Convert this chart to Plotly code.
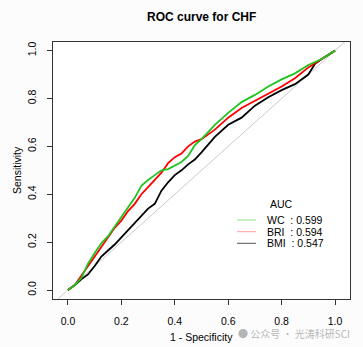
import plotly.graph_objects as go

# ROC coordinates: false positive rate (1 - specificity) and sensitivity
wc_fpr = [0, 0.025, 0.05, 0.075, 0.1, 0.125, 0.15, 0.175, 0.2, 0.225, 0.25, 0.275, 0.3,
          0.325, 0.35, 0.375, 0.4, 0.425, 0.45, 0.475, 0.5, 0.55, 0.6, 0.65, 0.7, 0.75,
          0.8, 0.85, 0.9, 0.95, 1.0]
wc_tpr = [0, 0.02, 0.05, 0.11, 0.155, 0.195, 0.225, 0.265, 0.30, 0.34, 0.385, 0.435, 0.46,
          0.48, 0.50, 0.505, 0.52, 0.535, 0.56, 0.605, 0.63, 0.69, 0.74, 0.785, 0.815, 0.85,
          0.88, 0.905, 0.94, 0.965, 1.0]

bri_fpr = [0, 0.025, 0.05, 0.075, 0.1, 0.125, 0.15, 0.175, 0.2, 0.225, 0.25, 0.275, 0.3,
           0.325, 0.35, 0.375, 0.4, 0.425, 0.45, 0.475, 0.5, 0.55, 0.6, 0.65, 0.7, 0.75,
           0.8, 0.85, 0.9, 0.95, 1.0]
bri_tpr = [0, 0.02, 0.06, 0.10, 0.14, 0.18, 0.22, 0.26, 0.29, 0.33, 0.36, 0.40, 0.43,
           0.46, 0.49, 0.53, 0.555, 0.57, 0.60, 0.62, 0.63, 0.67, 0.72, 0.76, 0.79, 0.82,
           0.85, 0.885, 0.93, 0.965, 1.0]

bmi_fpr = [0, 0.025, 0.05, 0.075, 0.1, 0.125, 0.15, 0.175, 0.2, 0.225, 0.25, 0.275, 0.3,
           0.325, 0.35, 0.375, 0.4, 0.425, 0.45, 0.475, 0.5, 0.55, 0.6, 0.65, 0.7, 0.75,
           0.8, 0.85, 0.9, 0.925, 0.95, 1.0]
bmi_tpr = [0, 0.02, 0.045, 0.065, 0.10, 0.14, 0.165, 0.19, 0.22, 0.25, 0.28, 0.31, 0.34,
           0.36, 0.415, 0.45, 0.48, 0.50, 0.525, 0.545, 0.575, 0.64, 0.69, 0.72, 0.77, 0.805,
           0.835, 0.86, 0.90, 0.945, 0.965, 1.0]

series_names = ["WC", "BRI", "BMI"]
auc_values = [0.599, 0.594, 0.547]
curve_colors = ["#1FC41F", "#FF0000", "#000000"]
legend_colors = ["#8FE08F", "#FF9A9A", "#555555"]

x_ticks = [0.0, 0.2, 0.4, 0.6, 0.8, 1.0]
y_ticks = [0.0, 0.2, 0.4, 0.6, 0.8, 1.0]

FONT = "Liberation Sans, Arial, Helvetica, sans-serif"

fig = go.Figure()

# chance diagonal, spanning the full plotting region
fig.add_trace(go.Scatter(x=[-0.2, 1.2], y=[-0.2, 1.2], mode="lines",
                         line=dict(color="#BDBDBD", width=0.8), hoverinfo="skip"))

# BMI drawn first, WC on top
for fpr, tpr, col in [(bmi_fpr, bmi_tpr, curve_colors[2]),
                      (bri_fpr, bri_tpr, curve_colors[1]),
                      (wc_fpr, wc_tpr, curve_colors[0])]:
    fig.add_trace(go.Scatter(x=fpr, y=tpr, mode="lines",
                             line=dict(color=col, width=1.8)))

axis_common = dict(
    showgrid=False, zeroline=False, showline=True, mirror=True,
    linecolor="#333333", linewidth=1, ticks="outside", ticklen=5,
    tickcolor="#333333", tickwidth=1,
    tickfont=dict(family=FONT, size=10.5, color="#000000"),
    ticklabelstandoff=7,
)

fig.update_xaxes(range=[-0.056, 1.056], tickvals=x_ticks,
                 ticktext=[f"{v:.1f}" for v in x_ticks], **axis_common)
fig.update_yaxes(range=[-0.0375, 1.036], tickvals=y_ticks,
                 ticktext=[f"{v:.1f}" for v in y_ticks], tickangle=-90, **axis_common)

W, H = 363, 347
L, R, T, B = 53, 13, 42, 48
pw, ph = W - L - R, H - T - B


def px_x(px):
    return (px - L) / pw


def px_y(py):
    return (H - B - py) / ph


annotations = [
    dict(text="<b>ROC curve for CHF</b>", x=px_x(201.5), y=px_y(17), xref="paper", yref="paper",
         showarrow=False, font=dict(family=FONT, size=12, color="#000000"),
         xanchor="center", yanchor="middle"),
    dict(text="1 - Specificity", x=px_x(201.5), y=px_y(337), xref="paper", yref="paper",
         showarrow=False, font=dict(family=FONT, size=10.5, color="#000000"),
         xanchor="center", yanchor="middle"),
    dict(text="Sensitivity", x=px_x(17), y=px_y(170), xref="paper", yref="paper",
         showarrow=False, textangle=-90, font=dict(family=FONT, size=10.5, color="#000000"),
         xanchor="center", yanchor="middle"),
    dict(text="AUC", x=px_x(281), y=px_y(204), xref="paper", yref="paper",
         showarrow=False, font=dict(family=FONT, size=10.5, color="#000000"),
         xanchor="center", yanchor="middle"),
]

shapes = []
legend_rows = [220, 231.7, 243.3]
for name, auc, col, ry in zip(series_names, auc_values, legend_colors, legend_rows):
    shapes.append(dict(type="line", xref="paper", yref="paper",
                       x0=px_x(237), x1=px_x(256), y0=px_y(ry), y1=px_y(ry),
                       line=dict(color=col, width=1)))
    annotations.append(dict(text=f"{name}\u00a0\u00a0: {auc:.3f}", x=px_x(265), y=px_y(ry),
                            xref="paper", yref="paper", showarrow=False,
                            xanchor="left", yanchor="middle",
                            font=dict(family=FONT, size=10.5, color="#000000")))

# faint account watermark at the bottom right
annotations.append(dict(text="\u25cf 公众号 · 光涛科研SCI", x=px_x(236), y=px_y(333),
                        xref="paper", yref="paper", showarrow=False,
                        xanchor="left", yanchor="middle",
                        font=dict(family="Noto Sans CJK SC", size=10,
                                  color="rgba(120,120,120,0.55)")))

fig.update_layout(
    width=W, height=H,
    margin=dict(l=L, r=R, t=T, b=B),
    paper_bgcolor="#FCFCFC", plot_bgcolor="#FFFFFF",
    showlegend=False,
    annotations=annotations,
    shapes=shapes,
)

fig.write_html("out.html")
